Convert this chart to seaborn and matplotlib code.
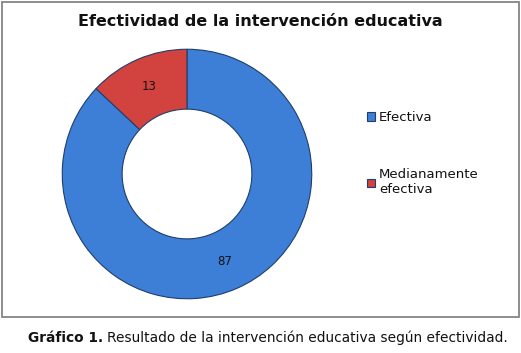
import matplotlib
matplotlib.use("Agg")
import matplotlib.pyplot as plt
from matplotlib.patches import Rectangle
import seaborn as sns

categories = ["Efectiva", "Medianamente\nefectiva"]
values = [87, 13]
colors = ["#3D7ED6", "#D2423F"]

sns.set_theme(style="white")
plt.rcParams['font.family'] = ['DejaVu Sans']

W, H = 521, 353
fig = plt.figure(figsize=(W/100, H/100), dpi=100)
fig.patch.set_facecolor("white")

# outer frame
fig.patches.append(Rectangle((1.5/W, (H-317)/H), 517/W, 315.5/H, transform=fig.transFigure,
                             fill=False, edgecolor="#858585", linewidth=1.3))

cx, cy, r = 187, 174, 126
ax = fig.add_axes([(cx-r)/W, (H-cy-r)/H, 2*r/W, 2*r/H])
wedges, texts, autotexts = ax.pie(values, colors=colors, startangle=90, counterclock=False,
                                  radius=1, autopct=lambda p: f"{p:.0f}", pctdistance=0.76,
                                  wedgeprops=dict(width=0.48, edgecolor="#1F3F6A", linewidth=0.8),
                                  textprops=dict(fontsize=8.5, color="#111111"))
ax.set_xlim(-1.01, 1.01)
ax.set_ylim(-1.01, 1.01)
ax.set_aspect("equal")
ax.axis("off")

fig.text(0.5, (H-21)/H, "Efectividad de la intervención educativa", ha="center", va="center",
         fontsize=11.5, fontweight="bold", color="#111111")

leg = fig.legend(wedges, categories, loc="upper left", bbox_to_anchor=(362/W, (H-106)/H),
                 frameon=False, fontsize=9.5, handlelength=0.6, handleheight=0.6,
                 handletextpad=0.3, labelspacing=3.35, borderaxespad=0, labelcolor="#111111")

t1 = fig.text(28/W, (H-338)/H, "Gráfico 1.", ha="left", va="center", fontsize=9.9,
              fontweight="bold", color="#111111")
fig.canvas.draw()
bb = t1.get_window_extent()
fig.text(bb.x1/W + 4/W, (H-338)/H, "Resultado de la intervención educativa según efectividad.",
         ha="left", va="center", fontsize=9.9, color="#111111")

fig.savefig("out.png", dpi=100)
